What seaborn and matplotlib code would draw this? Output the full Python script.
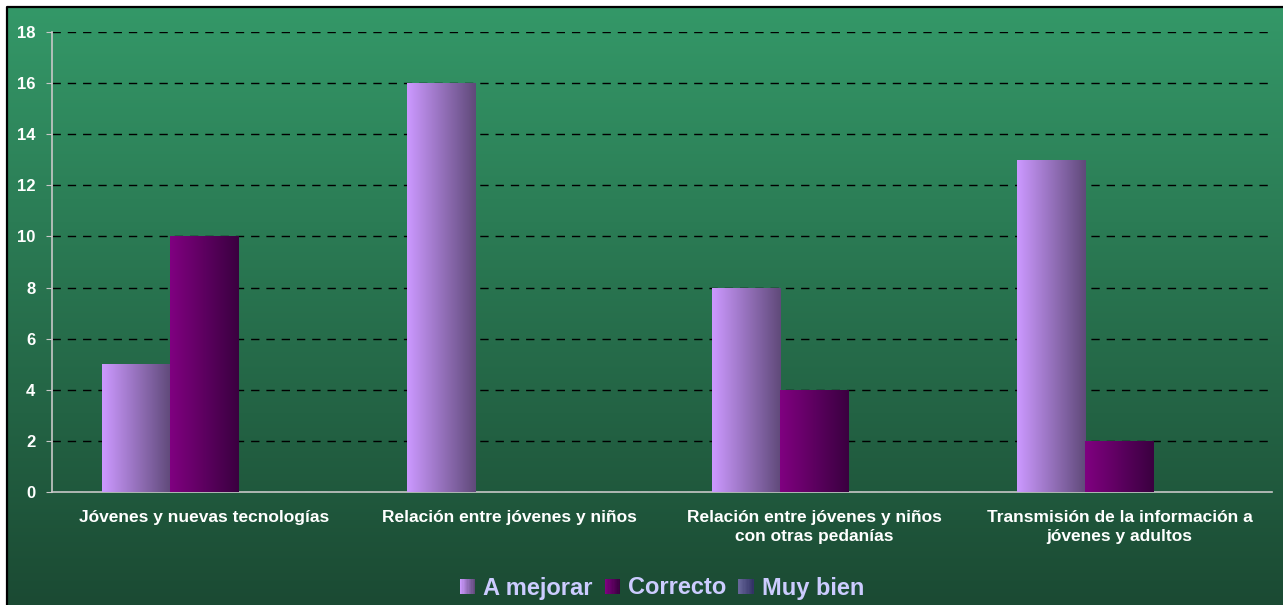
import numpy as np
import pandas as pd
import matplotlib
matplotlib.use("Agg")
import matplotlib.pyplot as plt
import seaborn as sns
from matplotlib.colors import LinearSegmentedColormap, to_hex
from matplotlib.patches import Rectangle
from matplotlib.lines import Line2D
from matplotlib.legend_handler import HandlerBase

# datos
categorias = [
    "Jóvenes y nuevas tecnologías",
    "Relación entre jóvenes y niños",
    "Relación entre jóvenes y niños\ncon otras pedanías",
    "Transmisión de la información a\njóvenes y adultos",
]
series = ["A mejorar", "Correcto", "Muy bien"]
a_mejorar = [5, 16, 8, 13]
correcto = [10, 0, 4, 2]
muy_bien = [0, 0, 0, 0]

gradientes = {
    "A mejorar": ("#cc99ff", "#604a7a"),
    "Correcto": ("#800080", "#3a0040"),
    "Muy bien": ("#666699", "#333366"),
}

df = pd.DataFrame({
    "categoria": categorias * 3,
    "serie": np.repeat(series, len(categorias)),
    "valor": a_mejorar + correcto + muy_bien,
})

sns.set_style("white")
plt.rcParams["font.family"] = ["Liberation Sans", "DejaVu Sans"]

W, H = 1283, 605
fig = plt.figure(figsize=(W / 100, H / 100), dpi=100, facecolor="white")

# fondo degradado (panel verde con borde negro arriba e izquierda)
bg = fig.add_axes([7 / W, 0, 1 - 7 / W, 1 - 7 / H], zorder=-10)
bg.imshow(np.linspace(0, 1, 256).reshape(-1, 1), aspect="auto",
          cmap=LinearSegmentedColormap.from_list("bg", ["#349868", "#1b4a33"]),
          extent=[0, 1, 0, 1])
bg.axis("off")
fig.add_artist(Line2D([6.5 / W, 6.5 / W, 1], [0, 1 - 6.5 / H, 1 - 6.5 / H],
                      transform=fig.transFigure, color="black", lw=1.6))

ax = fig.add_axes([52 / W, 1 - 492 / H, (1272 - 52) / W, (492 - 32) / H])
ax.set_facecolor("none")

palette = {s: gradientes[s][0] for s in series}
sns.barplot(data=df, x="categoria", y="valor", hue="serie", hue_order=series,
            palette=palette, width=0.67, saturation=1, edgecolor="none",
            legend=False, ax=ax)

# barras con degradado horizontal
inv = {to_hex(gradientes[s][0]): s for s in series}
for p in list(ax.patches):
    h = p.get_height()
    if h <= 0:
        continue
    s = inv[to_hex(p.get_facecolor())]
    cmap = LinearSegmentedColormap.from_list(s, gradientes[s])
    x0 = p.get_x()
    im = ax.imshow(np.linspace(0, 1, 100).reshape(1, -1), cmap=cmap, aspect="auto",
                   extent=[x0, x0 + p.get_width(), 0, h], zorder=3)
    im.set_clip_path(p)

ax.set_xlim(-0.5, 3.5)
ax.set_ylim(0, 18)
ax.set_yticks(range(0, 19, 2))
ax.set_axisbelow(True)
ax.yaxis.grid(True, color="black", linestyle=(0, (6, 5)), linewidth=1)
ax.xaxis.grid(False)

for side in ["top", "right"]:
    ax.spines[side].set_visible(False)
for side in ["left", "bottom"]:
    ax.spines[side].set_color("#c8c8c8")
    ax.spines[side].set_linewidth(1.2)

ax.set_xlabel("")
ax.set_ylabel("")
ax.set_xticks(range(4))
ax.set_xticklabels(categorias)
ax.set_xticks([0.5, 1.5, 2.5, 3.5], minor=True)
ax.tick_params(axis="x", which="major", length=0, pad=13, labelsize=12.5, labelcolor="white")
ax.tick_params(axis="x", which="minor", length=4, color="#c8c8c8", direction="out")
ax.tick_params(axis="y", length=4, color="#c8c8c8", direction="out", pad=8,
               labelsize=12, labelcolor="white")
ax.tick_params(left=True, bottom=True)
for t in ax.get_xticklabels() + ax.get_yticklabels():
    t.set_fontweight("bold")
for t in ax.get_xticklabels():
    t.set_linespacing(1.3)
    t.set_verticalalignment("top")


class GradHandler(HandlerBase):
    def __init__(self, c0, c1):
        super().__init__()
        self.cmap = LinearSegmentedColormap.from_list("h", [c0, c1])

    def create_artists(self, legend, orig_handle, xdescent, ydescent, width, height,
                       fontsize, trans):
        size = min(width, height)
        x = -xdescent + (width - size) / 2
        y = -ydescent + (height - size) / 2
        n = 12
        arts = []
        for i in range(n):
            r = Rectangle((x + i * size / n, y), size / n + 0.3, size,
                          fc=self.cmap(i / (n - 1)), ec="none", transform=trans)
            arts.append(r)
        return arts


handles = [Rectangle((0, 0), 1, 1) for _ in series]
hmap = {h: GradHandler(*gradientes[s]) for h, s in zip(handles, series)}
fig.legend(handles, series, handler_map=hmap, loc="center",
           bbox_to_anchor=(662 / W, 1 - 588 / H), ncol=3, frameon=False,
           handlelength=0.65, handleheight=0.65, handletextpad=0.35, columnspacing=0.5,
           prop={"weight": "bold", "size": 17}, labelcolor="#ccccff")

fig.savefig("out.png", dpi=100, facecolor="white")
